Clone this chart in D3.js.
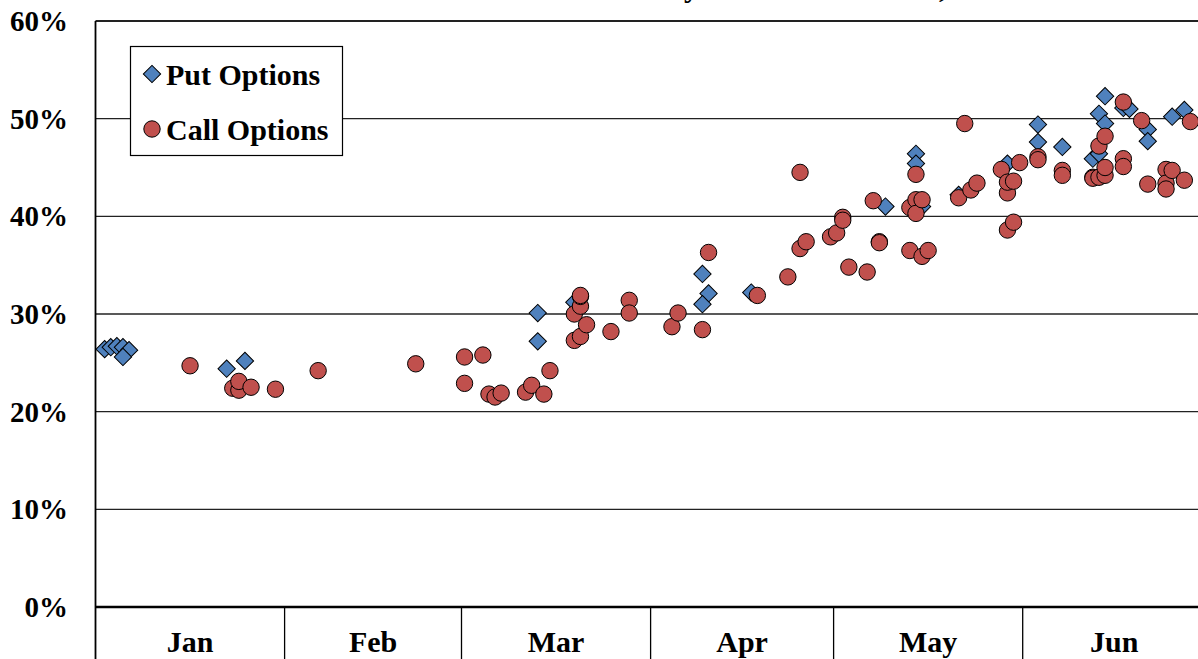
<!DOCTYPE html>
<html>
<head>
<meta charset="utf-8">
<script src="https://cdn.jsdelivr.net/npm/d3@7"></script>
<style>
  html, body { margin: 0; padding: 0; background: #fff; overflow: hidden; }
  svg { display: block; font-family: "Liberation Serif", "Times New Roman", serif; font-weight: bold; }
</style>
</head>
<body>
<svg id="chart" width="1198" height="659"></svg>
<script>
/* Data */

const months = ['Jan', 'Feb', 'Mar', 'Apr', 'May', 'Jun'];
const yTicks = [0, 10, 20, 30, 40, 50, 60];

const putDates = [
  '2008-01-02', '2008-01-03', '2008-01-04', '2008-01-05', '2008-01-06', '2008-01-05', '2008-01-22', '2008-01-25',
  '2008-03-13', '2008-03-13', '2008-03-19',
  '2008-04-09', '2008-04-10', '2008-04-09', '2008-04-17',
  '2008-05-14', '2008-05-14', '2008-05-09', '2008-05-15', '2008-05-21', '2008-05-29',
  '2008-06-03', '2008-06-03', '2008-06-07', '2008-06-12', '2008-06-13', '2008-06-13', '2008-06-14',
  '2008-06-14', '2008-06-17', '2008-06-18', '2008-06-21', '2008-06-21', '2008-06-25', '2008-06-27'
];
const putValues = [
  26.4, 26.6, 26.7, 26.6, 26.3, 25.6, 24.4, 25.2,
  30.1, 27.2, 31.2,
  34.1, 32.1, 31.0, 32.2,
  46.4, 45.4, 41.0, 41.0, 42.2, 45.4,
  49.4, 47.6, 47.1, 45.9, 46.4, 50.5, 52.3,
  49.5, 51.1, 51.0, 48.9, 47.7, 50.2, 50.9
];

const callDates = [
  '2008-01-16', '2008-01-23', '2008-01-24', '2008-01-24', '2008-01-26', '2008-01-30',
  '2008-02-06', '2008-02-22',
  '2008-03-01', '2008-03-01', '2008-03-04', '2008-03-05', '2008-03-06', '2008-03-07', '2008-03-11',
  '2008-03-12', '2008-03-14', '2008-03-15', '2008-03-19', '2008-03-19', '2008-03-20', '2008-03-20',
  '2008-03-20', '2008-03-20', '2008-03-21', '2008-03-25', '2008-03-28', '2008-03-28',
  '2008-04-04', '2008-04-05', '2008-04-09', '2008-04-10', '2008-04-18', '2008-04-23', '2008-04-25',
  '2008-04-25', '2008-04-26', '2008-04-30',
  '2008-05-01', '2008-05-02', '2008-05-02', '2008-05-03', '2008-05-06', '2008-05-07', '2008-05-08',
  '2008-05-08', '2008-05-13', '2008-05-13', '2008-05-14', '2008-05-14', '2008-05-14', '2008-05-15',
  '2008-05-15', '2008-05-16', '2008-05-21', '2008-05-22', '2008-05-23', '2008-05-24', '2008-05-28',
  '2008-05-29', '2008-05-29', '2008-05-29', '2008-05-30', '2008-05-30', '2008-05-31',
  '2008-06-03', '2008-06-03', '2008-06-07', '2008-06-07', '2008-06-12', '2008-06-12', '2008-06-13',
  '2008-06-13', '2008-06-14', '2008-06-14', '2008-06-14', '2008-06-17', '2008-06-17', '2008-06-17',
  '2008-06-20', '2008-06-21', '2008-06-24', '2008-06-24', '2008-06-24', '2008-06-25', '2008-06-27',
  '2008-06-28'
];
const callValues = [
  24.7, 22.4, 22.2, 23.1, 22.5, 22.3,
  24.2, 24.9,
  25.6, 22.9, 25.8, 21.8, 21.5, 21.9, 22.0,
  22.7, 21.8, 24.2, 27.3, 30.0, 27.7, 30.8,
  31.8, 31.9, 28.9, 28.2, 31.4, 30.1,
  28.7, 30.1, 28.4, 36.3, 31.9, 33.8, 44.5,
  36.7, 37.4, 37.9,
  38.3, 39.9, 39.6, 34.8, 34.3, 41.6, 37.4,
  37.3, 40.9, 36.5, 44.3, 41.7, 40.3, 41.7,
  35.9, 36.5, 41.9, 49.5, 42.7, 43.4, 44.8,
  42.4, 43.5, 38.6, 39.4, 43.6, 45.5,
  46.1, 45.8, 44.7, 44.2, 44.0, 43.9, 47.2,
  44.0, 48.2, 44.2, 45.0, 45.9, 45.1, 51.7,
  49.8, 43.3, 44.8, 43.4, 42.8, 44.7, 43.7,
  49.7
];

/* Setup */

const parse = d3.timeParse('%Y-%m-%d');
const svg = d3.select('#chart');

const x = d3.scaleTime()
    .domain([new Date(2008, 0, 1), new Date(2008, 6, 1)])
    .range([95.5, 95.5 + 182 * 6.1]);

const y = d3.scaleLinear()
    .domain([0, 60])
    .range([607, 21]);

// points sit in the middle of their day slot
const xMid = d => x(d3.timeHour.offset(parse(d), 12));

const blue = '#4F81BD', red = '#C0504D';

/* Title (mostly above the top edge, only descenders peek in) */

const title = svg.append('text')
    .attr('y', -3)
    .attr('font-size', 30)
    .text('Volatility of the Stock Index, 2008');

// put the "y" of Volatility at about x = 690
const beforeY = title.node().getSubStringLength(0, 9);
title.attr('x', 684 - beforeY);

/* Grid + axes */

svg.append('g')
  .selectAll('line')
  .data(yTicks.filter(t => t > 0))
  .join('line')
    .attr('x1', x.range()[0])
    .attr('x2', 1198)
    .attr('y1', d => y(d))
    .attr('y2', d => y(d))
    .attr('stroke', '#222')
    .attr('stroke-width', d => d === 60 ? 2 : 1.3);

svg.append('line')
    .attr('x1', x.range()[0]).attr('x2', 1198)
    .attr('y1', y(0)).attr('y2', y(0))
    .attr('stroke', '#000').attr('stroke-width', 2.5);

svg.append('g')
  .selectAll('text')
  .data(yTicks)
  .join('text')
    .attr('x', 68)
    .attr('y', d => y(d))
    .attr('dy', '0.35em')
    .attr('text-anchor', 'end')
    .attr('font-size', 29)
    .text(d => d + '%');

const monthStarts = d3.timeMonth.range(new Date(2008, 0, 1), new Date(2008, 6, 1));

svg.append('g')
  .selectAll('line')
  .data(monthStarts)
  .join('line')
    .attr('x1', d => x(d)).attr('x2', d => x(d))
    .attr('y1', (d, i) => i === 0 ? y(60) : y(0))
    .attr('y2', 659)
    .attr('stroke', '#000')
    .attr('stroke-width', (d, i) => i === 0 ? 1.8 : 1.3);

svg.append('g')
  .selectAll('text')
  .data(months)
  .join('text')
    .attr('x', (d, i) => (x(monthStarts[i]) + x(d3.timeMonth.offset(monthStarts[i], 1))) / 2)
    .attr('y', 652)
    .attr('text-anchor', 'middle')
    .attr('font-size', 30)
    .text(d => d);

/* Marks */

const diamond = d3.symbol().type(d3.symbolSquare).size(150);

svg.append('g')
  .selectAll('path')
  .data(putDates.map((d, i) => [d, putValues[i]]))
  .join('path')
    .attr('d', diamond)
    .attr('transform', d => `translate(${xMid(d[0])},${y(d[1])}) rotate(45)`)
    .attr('fill', blue)
    .attr('stroke', '#000')
    .attr('stroke-width', 1);

svg.append('g')
  .selectAll('circle')
  .data(callDates.map((d, i) => [d, callValues[i]]))
  .join('circle')
    .attr('cx', d => xMid(d[0]))
    .attr('cy', d => y(d[1]))
    .attr('r', 8.2)
    .attr('fill', red)
    .attr('stroke', '#000')
    .attr('stroke-width', 1);

/* Legend */

const legend = svg.append('g');

legend.append('rect')
    .attr('x', 130.5).attr('y', 46.5)
    .attr('width', 212).attr('height', 109)
    .attr('fill', '#fff')
    .attr('stroke', '#000')
    .attr('stroke-width', 1.2);

legend.append('path')
    .attr('d', diamond)
    .attr('transform', 'translate(152,74) rotate(45)')
    .attr('fill', blue)
    .attr('stroke', '#000');

legend.append('circle')
    .attr('cx', 152).attr('cy', 129).attr('r', 8.2)
    .attr('fill', red)
    .attr('stroke', '#000');

legend.append('text')
    .attr('x', 166).attr('y', 74).attr('dy', '0.35em')
    .attr('font-size', 30)
    .text('Put Options');

legend.append('text')
    .attr('x', 166).attr('y', 129).attr('dy', '0.35em')
    .attr('font-size', 30)
    .text('Call Options');
</script>
</body>
</html>
